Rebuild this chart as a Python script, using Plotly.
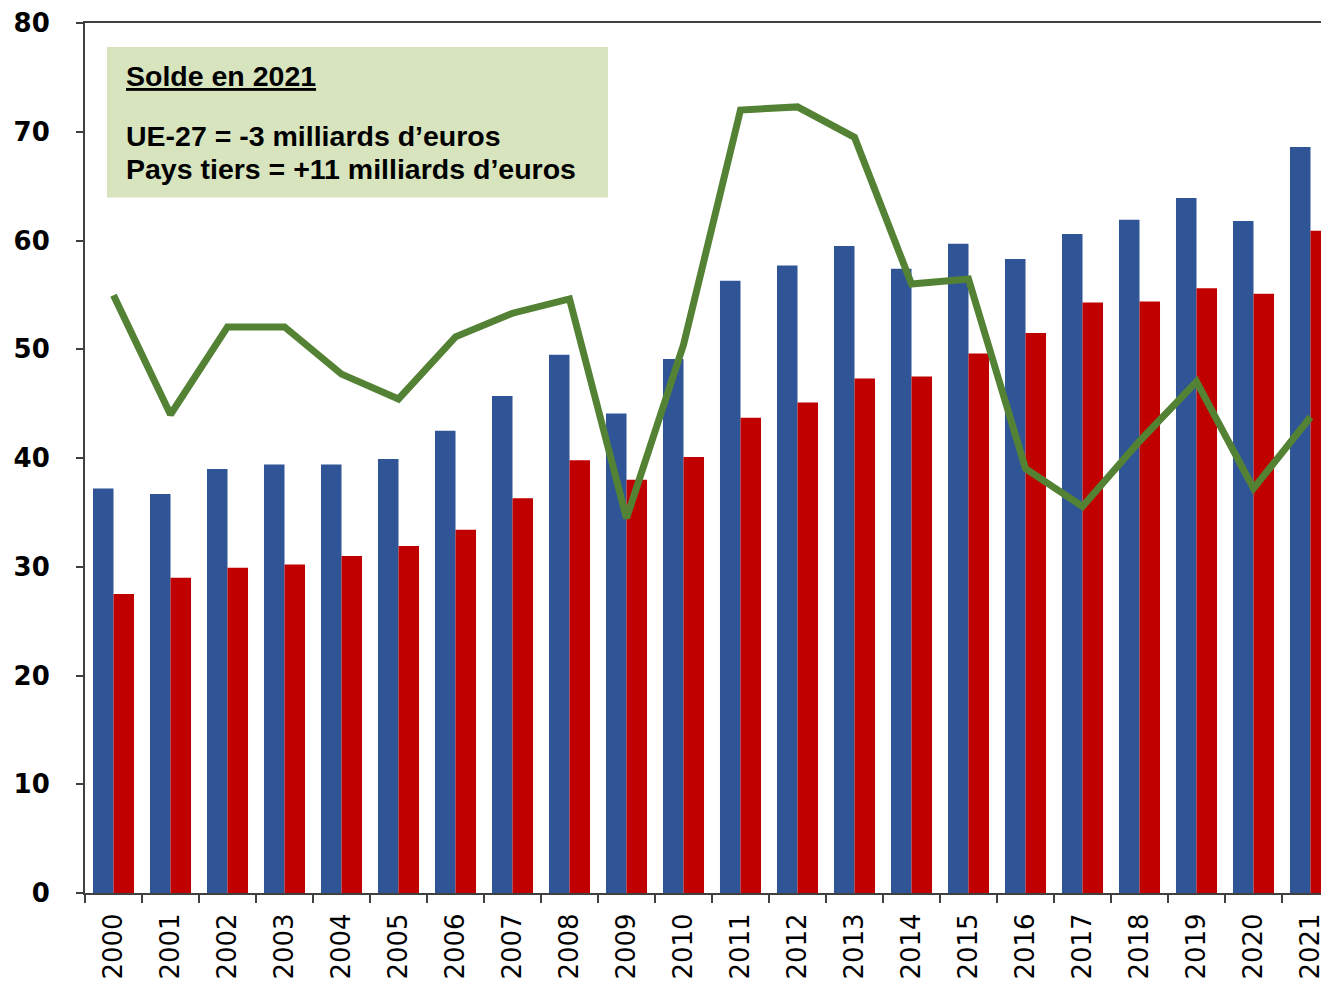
import plotly.graph_objects as go

years = [str(y) for y in range(2000, 2022)]
exports = [37.2, 36.7, 39.0, 39.4, 39.4, 39.9, 42.5, 45.7, 49.5, 44.1, 49.1,
           56.3, 57.7, 59.5, 57.4, 59.7, 58.3, 60.6, 61.9, 63.9, 61.8, 68.6]
imports = [27.5, 29.0, 29.9, 30.2, 31.0, 31.9, 33.4, 36.3, 39.8, 38.0, 40.1,
           43.7, 45.1, 47.3, 47.5, 49.6, 51.5, 54.3, 54.4, 55.6, 55.1, 60.9]
solde = [9.62, 7.70, 9.11, 9.11, 8.35, 7.95, 8.95, 9.33, 9.56, 6.03, 8.82,
         12.6, 12.65, 12.16, 9.8, 9.88, 6.83, 6.22, 7.27, 8.23, 6.51, 7.66]
left_ticks = [0, 10, 20, 30, 40, 50, 60, 70, 80]
right_ticks = [0, 2, 4, 6, 8, 10, 12, 14]

BLUE = "#2F5597"
RED = "#C00000"
GREEN = "#548235"

fig = go.Figure()
fig.add_trace(go.Bar(x=years, y=exports, marker=dict(color=BLUE, line=dict(width=0)),
                     name="Exportations"))
fig.add_trace(go.Bar(x=years, y=imports, marker=dict(color=RED, line=dict(width=0)),
                     name="Importations"))
fig.add_trace(go.Scatter(x=years, y=solde, mode="lines", yaxis="y2",
                         line=dict(color=GREEN, width=7), name="Solde"))

# page body has an 8px margin: figure drawn from (8, 8)
OFF = 8
W, H = 1321, 978
L, R, T, B = 77, 0, 12, 93
pw = W - L - R
ph = H - T - B

def px(x):
    return (x - OFF - L) / pw

def py(y):
    return (H - B + OFF - y) / ph

fig.update_layout(
    width=W, height=H,
    margin=dict(l=L, r=R, t=T, b=B),
    plot_bgcolor="white", paper_bgcolor="white",
    showlegend=False,
    barmode="group", bargap=0.28, bargroupgap=0,
    xaxis=dict(
        type="category",
        range=[-0.5, 21.5 - 10 / 57],
        showline=True, linecolor="#404040", linewidth=2, mirror=True,
        ticks="outside", tickson="boundaries", ticklen=8, tickcolor="#404040", tickwidth=2,
        tickangle=-90, ticklabelstandoff=8,
        tickfont=dict(family="DejaVu Sans", size=26, color="black"),
        showgrid=False, zeroline=False,
    ),
    yaxis=dict(
        range=[0, 80], tickvals=left_ticks,
        showline=True, linecolor="#404040", linewidth=2,
        ticks="outside", ticklen=7, tickcolor="#404040", tickwidth=2,
        ticklabelstandoff=21, ticklabeloverflow="allow",
        tickfont=dict(family="DejaVu Sans", size=26, color="black", weight="bold"),
        showgrid=False, zeroline=False,
    ),
    yaxis2=dict(
        overlaying="y", side="right", range=[0, 14], tickvals=right_ticks,
        showticklabels=False, showline=False,
        ticks="inside", ticklen=4, tickcolor="#404040", tickwidth=2,
        showgrid=False, zeroline=False,
    ),
)

fig.add_shape(type="rect", xref="paper", yref="paper",
              x0=px(107), x1=px(608), y0=py(195), y1=py(44),
              fillcolor="#D7E4BD", line=dict(width=0), layer="below")

txt_font = dict(family="Liberation Sans", size=28.5, color="black", weight="bold")
fig.add_annotation(xref="paper", yref="paper", x=px(124), y=py(73),
                   xanchor="left", yanchor="middle", showarrow=False,
                   text="<u>Solde en 2021</u>", font=txt_font)
fig.add_annotation(xref="paper", yref="paper", x=px(124), y=py(133),
                   xanchor="left", yanchor="middle", showarrow=False,
                   text="UE-27 = -3 milliards d’euros", font=txt_font)
fig.add_annotation(xref="paper", yref="paper", x=px(124), y=py(167),
                   xanchor="left", yanchor="middle", showarrow=False,
                   text="Pays tiers = +11 milliards d’euros", font=txt_font)

fig.write_html("out.html")
